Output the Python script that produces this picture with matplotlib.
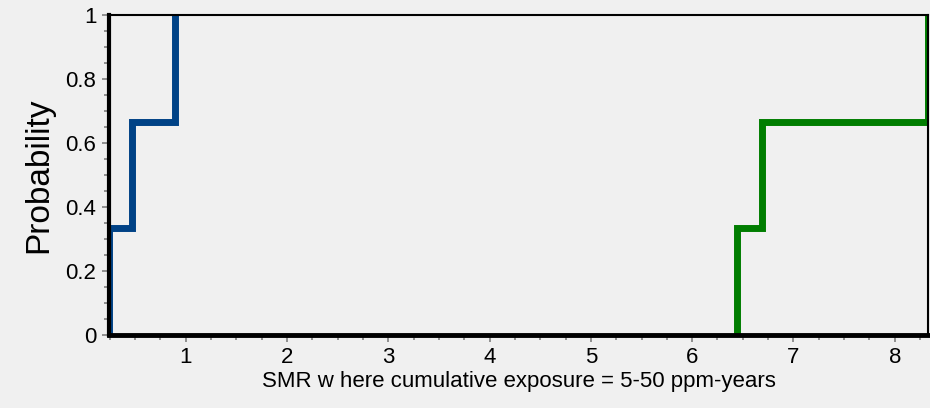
import matplotlib
matplotlib.use("Agg")
import matplotlib.pyplot as plt
from matplotlib.ticker import MultipleLocator

plt.rcParams['font.family'] = ['Liberation Sans', 'DejaVu Sans']

blue_smr = [0.24, 0.24, 0.47, 0.89]
blue_prob = [0.0, 0.333, 0.667, 1.0]
green_smr = [6.44, 6.44, 6.69, 8.33]
green_prob = [0.0, 0.333, 0.667, 1.0]

x_ticks = [1, 2, 3, 4, 5, 6, 7, 8]
y_ticks = [0, 0.2, 0.4, 0.6, 0.8, 1]
y_tick_labels = ['0', '0.2', '0.4', '0.6', '0.8', '1']

bg = '#f0f0f0'
fig = plt.figure(figsize=(9.3, 4.08), dpi=100, facecolor=bg)
ax = fig.add_axes([0.117, 0.179, 0.881, 0.784], facecolor=bg)

ax.step(blue_smr, blue_prob, where='post', color='#004286', lw=5, solid_joinstyle='miter')
ax.step(green_smr, green_prob, where='post', color='#007d00', lw=5, solid_joinstyle='miter')

ax.set_xlim(0.24, 8.33)
ax.set_ylim(0, 1)
ax.set_xticks(x_ticks)
ax.set_xticklabels([str(v) for v in x_ticks])
ax.set_yticks(y_ticks)
ax.set_yticklabels(y_tick_labels)
ax.xaxis.set_minor_locator(MultipleLocator(0.25))
ax.yaxis.set_minor_locator(MultipleLocator(0.05))

ax.tick_params(axis='both', which='major', direction='out', length=5, width=1.2,
               color='#808080', labelsize=16, labelcolor='black', pad=4)
ax.tick_params(axis='both', which='minor', direction='out', length=3.5, width=1.2,
               color='#808080')

ax.spines['bottom'].set_linewidth(3.5)
ax.spines['left'].set_linewidth(3.0)
ax.spines['top'].set_linewidth(1.5)
ax.spines['right'].set_linewidth(1.5)
for s in ax.spines.values():
    s.set_color('black')

ax.set_xlabel('SMR w here cumulative exposure = 5-50 ppm-years', fontsize=16, labelpad=2)
ax.set_ylabel('Probability', fontsize=24, labelpad=8)

fig.savefig('out.png', dpi=100, facecolor=bg)
